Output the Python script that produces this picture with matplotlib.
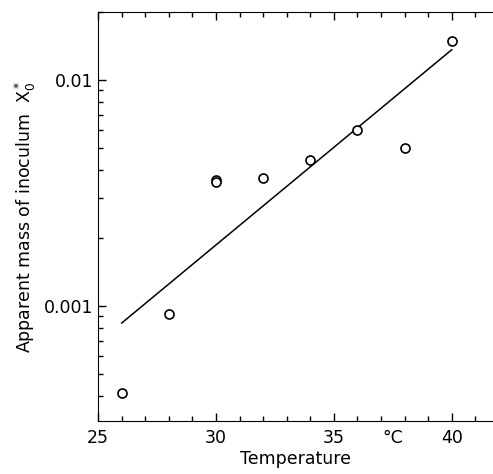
import matplotlib
matplotlib.use("Agg")
import matplotlib.pyplot as plt
from matplotlib.ticker import FixedLocator, NullFormatter, LogLocator
from matplotlib.transforms import offset_copy

# measured points (temperature in degC, apparent inoculum mass)
temp = [26, 28, 30, 30, 32, 34, 36, 38, 40]
mass = [0.00041, 0.00092, 0.00362, 0.00355, 0.00368, 0.0044, 0.0060, 0.0050, 0.0148]

# fitted line end points
fit_temp = [26, 40]
fit_mass = [0.00084, 0.0136]

xticks = [25, 30, 35, 40]
xticklabels = ["25", "30", "35", "40"]
yticks = [0.001, 0.01]
yticklabels = ["0.001", "0.01"]

fig = plt.figure(figsize=(4.93, 4.74), dpi=100)
ax = fig.add_axes([0.199, 0.112, 0.801, 0.863])

ax.semilogy(fit_temp, fit_mass, color="black", lw=1.1)
ax.plot(temp, mass, "o", mfc="white", mec="black", ms=6.5, mew=1.2)

ax.set_xlim(25, 41.75)
ax.set_ylim(0.00031, 0.02)

ax.xaxis.set_major_locator(FixedLocator(xticks))
ax.set_xticklabels(xticklabels)
ax.xaxis.set_minor_locator(FixedLocator(range(25, 42)))
ax.yaxis.set_major_locator(FixedLocator(yticks))
ax.set_yticklabels(yticklabels)
ax.yaxis.set_minor_locator(LogLocator(base=10, subs=range(2, 10)))
ax.yaxis.set_minor_formatter(NullFormatter())

ax.tick_params(which="both", direction="in", top=True, right=False, labelsize=12.5)
ax.tick_params(which="major", length=6, width=1)
ax.tick_params(which="minor", length=3.5, width=1)
ax.tick_params(axis="x", pad=6)
ax.spines["right"].set_visible(False)

# unit written on the axis like a tick label
unit_tr = offset_copy(ax.get_xaxis_transform(), fig=fig, y=-6, units="points")
ax.text(37.5, 0, "°C", transform=unit_tr, ha="center", va="top", fontsize=12.5)

ax.set_xlabel("Temperature", fontsize=12.5, labelpad=2)
ax.set_ylabel(r"Apparent mass of inoculum  $\mathrm{X}_0^*$", fontsize=12.5, labelpad=4)

fig.savefig("out.png", dpi=100)
